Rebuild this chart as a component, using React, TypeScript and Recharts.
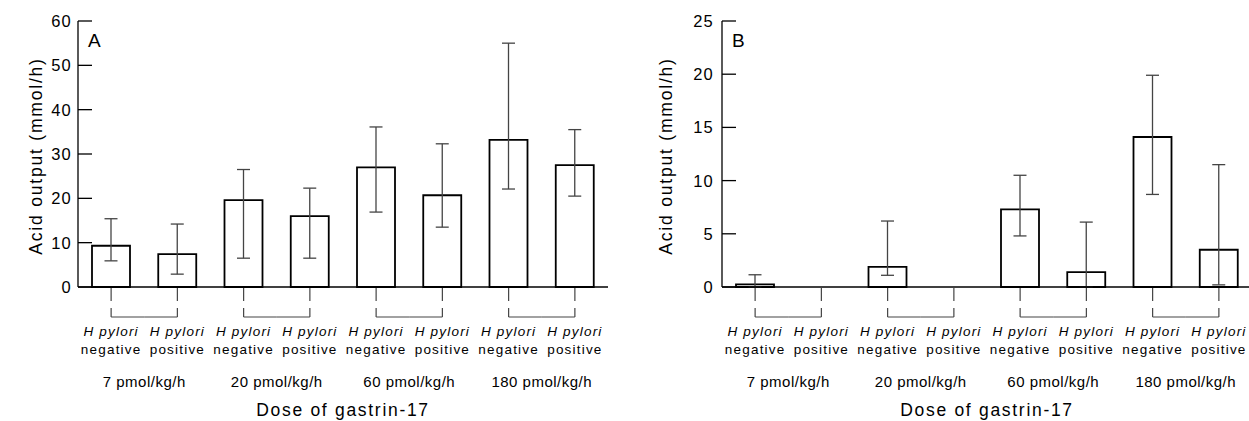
import { BarChart, Bar, XAxis, YAxis, ErrorBar } from "recharts"

const categories = ["7-neg", "7-pos", "20-neg", "20-pos", "60-neg", "60-pos", "180-neg", "180-pos"]
const statusLabels = ["negative", "positive", "negative", "positive", "negative", "positive", "negative", "positive"]
const doseLabels = ["7 pmol/kg/h", "20 pmol/kg/h", "60 pmol/kg/h", "180 pmol/kg/h"]

// panel A
const meanA = [9.3, 7.4, 19.6, 16.0, 27.0, 20.7, 33.2, 27.5]
const lowA = [5.9, 2.9, 6.5, 6.5, 16.9, 13.5, 22.1, 20.5]
const highA = [15.4, 14.2, 26.5, 22.3, 36.1, 32.3, 55.0, 35.5]
const ticksA = [0, 10, 20, 30, 40, 50, 60]

// panel B
const meanB = [0.25, 0, 1.9, 0, 7.3, 1.4, 14.1, 3.5]
const lowB = [0, 0, 1.1, 0, 4.8, 0, 8.7, 0.2]
const highB = [1.15, 0.4, 6.2, 2.0, 10.5, 6.1, 19.9, 11.5]
const ticksB = [0, 5, 10, 15, 20, 25]

const FONT = '"Liberation Sans", Arial, Helvetica, sans-serif'
const INK = "#000"
const W = 620
const H = 421
const TOP = 21
const AXIS_W = 78
const RIGHT = 12
const XAXIS_H = H - TOP - 266
const HALF_BAND = (W - AXIS_W - RIGHT) / categories.length / 2

function InsideTick({ x, y, payload, gap }: any) {
    const axisX = x + gap
    return (
        <g>
            <line x1={axisX} x2={axisX + 14} y1={y} y2={y} stroke={INK} strokeWidth={1.3} />
            <text
                x={x}
                y={y}
                dy="0.36em"
                textAnchor="end"
                fill={INK}
                style={{ fontFamily: FONT, fontSize: 16.5, letterSpacing: 1.2 }}
            >
                {payload.value}
            </text>
        </g>
    )
}

function GroupTick({ x, y, payload }: any) {
    const i = payload.index
    const half = typeof payload.offset === "number" && payload.offset > 2 ? payload.offset : HALF_BAND
    const first = i % 2 === 0
    const label = { fontFamily: FONT, fontSize: 13.5, letterSpacing: 1.2 }
    return (
        <g>
            <line x1={x} x2={x} y1={y + 1} y2={y + 14} stroke="#444" strokeWidth={1.2} />
            <line x1={x} x2={x} y1={y + 21} y2={y + 30} stroke="#444" strokeWidth={1.2} />
            <line x1={x} x2={first ? x + half : x - half} y1={y + 30} y2={y + 30} stroke="#444" strokeWidth={1.2} />
            <text x={x} y={y + 49} textAnchor="middle" fill={INK} style={{ ...label, fontStyle: "italic" }}>
                H pylori
            </text>
            <text x={x} y={y + 67} textAnchor="middle" fill={INK} style={label}>
                {statusLabels[i]}
            </text>
            {first && (
                <text
                    x={x + half}
                    y={y + 100}
                    textAnchor="middle"
                    fill={INK}
                    style={{ fontFamily: FONT, fontSize: 15, letterSpacing: 0.5 }}
                >
                    {doseLabels[i / 2]}
                </text>
            )}
        </g>
    )
}

function XTitle({ viewBox }: any) {
    const { x, y, width } = viewBox
    return (
        <text
            x={x + width / 2}
            y={y + 129}
            textAnchor="middle"
            fill={INK}
            style={{ fontFamily: FONT, fontSize: 17.5, letterSpacing: 1.7 }}
        >
            Dose of gastrin-17
        </text>
    )
}

function YTitle({ viewBox, titleX, letter }: any) {
    const { y, height } = viewBox
    const cy = y + height / 2 + 2
    return (
        <g>
            <text
                x={titleX}
                y={cy}
                textAnchor="middle"
                transform={`rotate(-90, ${titleX}, ${cy})`}
                fill={INK}
                style={{ fontFamily: FONT, fontSize: 17.5, letterSpacing: 1.8 }}
            >
                Acid output (mmol/h)
            </text>
            <text x={AXIS_W + 10} y={47} fill={INK} style={{ fontFamily: FONT, fontSize: 19 }}>
                {letter}
            </text>
        </g>
    )
}

function Panel({ letter, mean, low, high, ticks, left, gap, titleX }: any) {
    const data = categories.map((cat, i) => ({
        cat,
        mean: mean[i],
        err: [mean[i] - low[i], high[i] - mean[i]],
    }))
    return (
        <div style={{ position: "absolute", left, top: 0 }}>
            <BarChart width={W} height={H} data={data} margin={{ top: TOP, right: RIGHT, bottom: 0, left: 0 }}>
                <XAxis
                    dataKey="cat"
                    height={XAXIS_H}
                    interval={0}
                    tickLine={false}
                    tickSize={0}
                    tickMargin={0}
                    axisLine={{ stroke: INK, strokeWidth: 1.3 }}
                    tick={<GroupTick />}
                    label={<XTitle />}
                />
                <YAxis
                    type="number"
                    domain={[0, ticks[ticks.length - 1]]}
                    ticks={ticks}
                    interval={0}
                    width={AXIS_W}
                    tickLine={false}
                    tickSize={0}
                    tickMargin={gap}
                    axisLine={{ stroke: INK, strokeWidth: 1.3 }}
                    tick={<InsideTick gap={gap} />}
                    label={<YTitle titleX={titleX} letter={letter} />}
                />
                <Bar dataKey="mean" fill="#fff" stroke={INK} strokeWidth={1.8} barSize={38} isAnimationActive={false}>
                    <ErrorBar
                        dataKey="err"
                        direction="y"
                        width={6.5}
                        stroke="#444"
                        strokeWidth={1.3}
                        isAnimationActive={false}
                    />
                </Bar>
            </BarChart>
        </div>
    )
}

export default function App() {
    return (
        <div
            style={{
                position: "absolute",
                left: 0,
                top: 0,
                width: 1249,
                height: 421,
                overflow: "hidden",
                background: "#fff",
            }}
        >
            <Panel letter="A" mean={meanA} low={lowA} high={highA} ticks={ticksA} left={0} gap={6} titleX={42} />
            <Panel letter="B" mean={meanB} low={lowB} high={highB} ticks={ticksB} left={644} gap={8} titleX={28} />
        </div>
    )
}
